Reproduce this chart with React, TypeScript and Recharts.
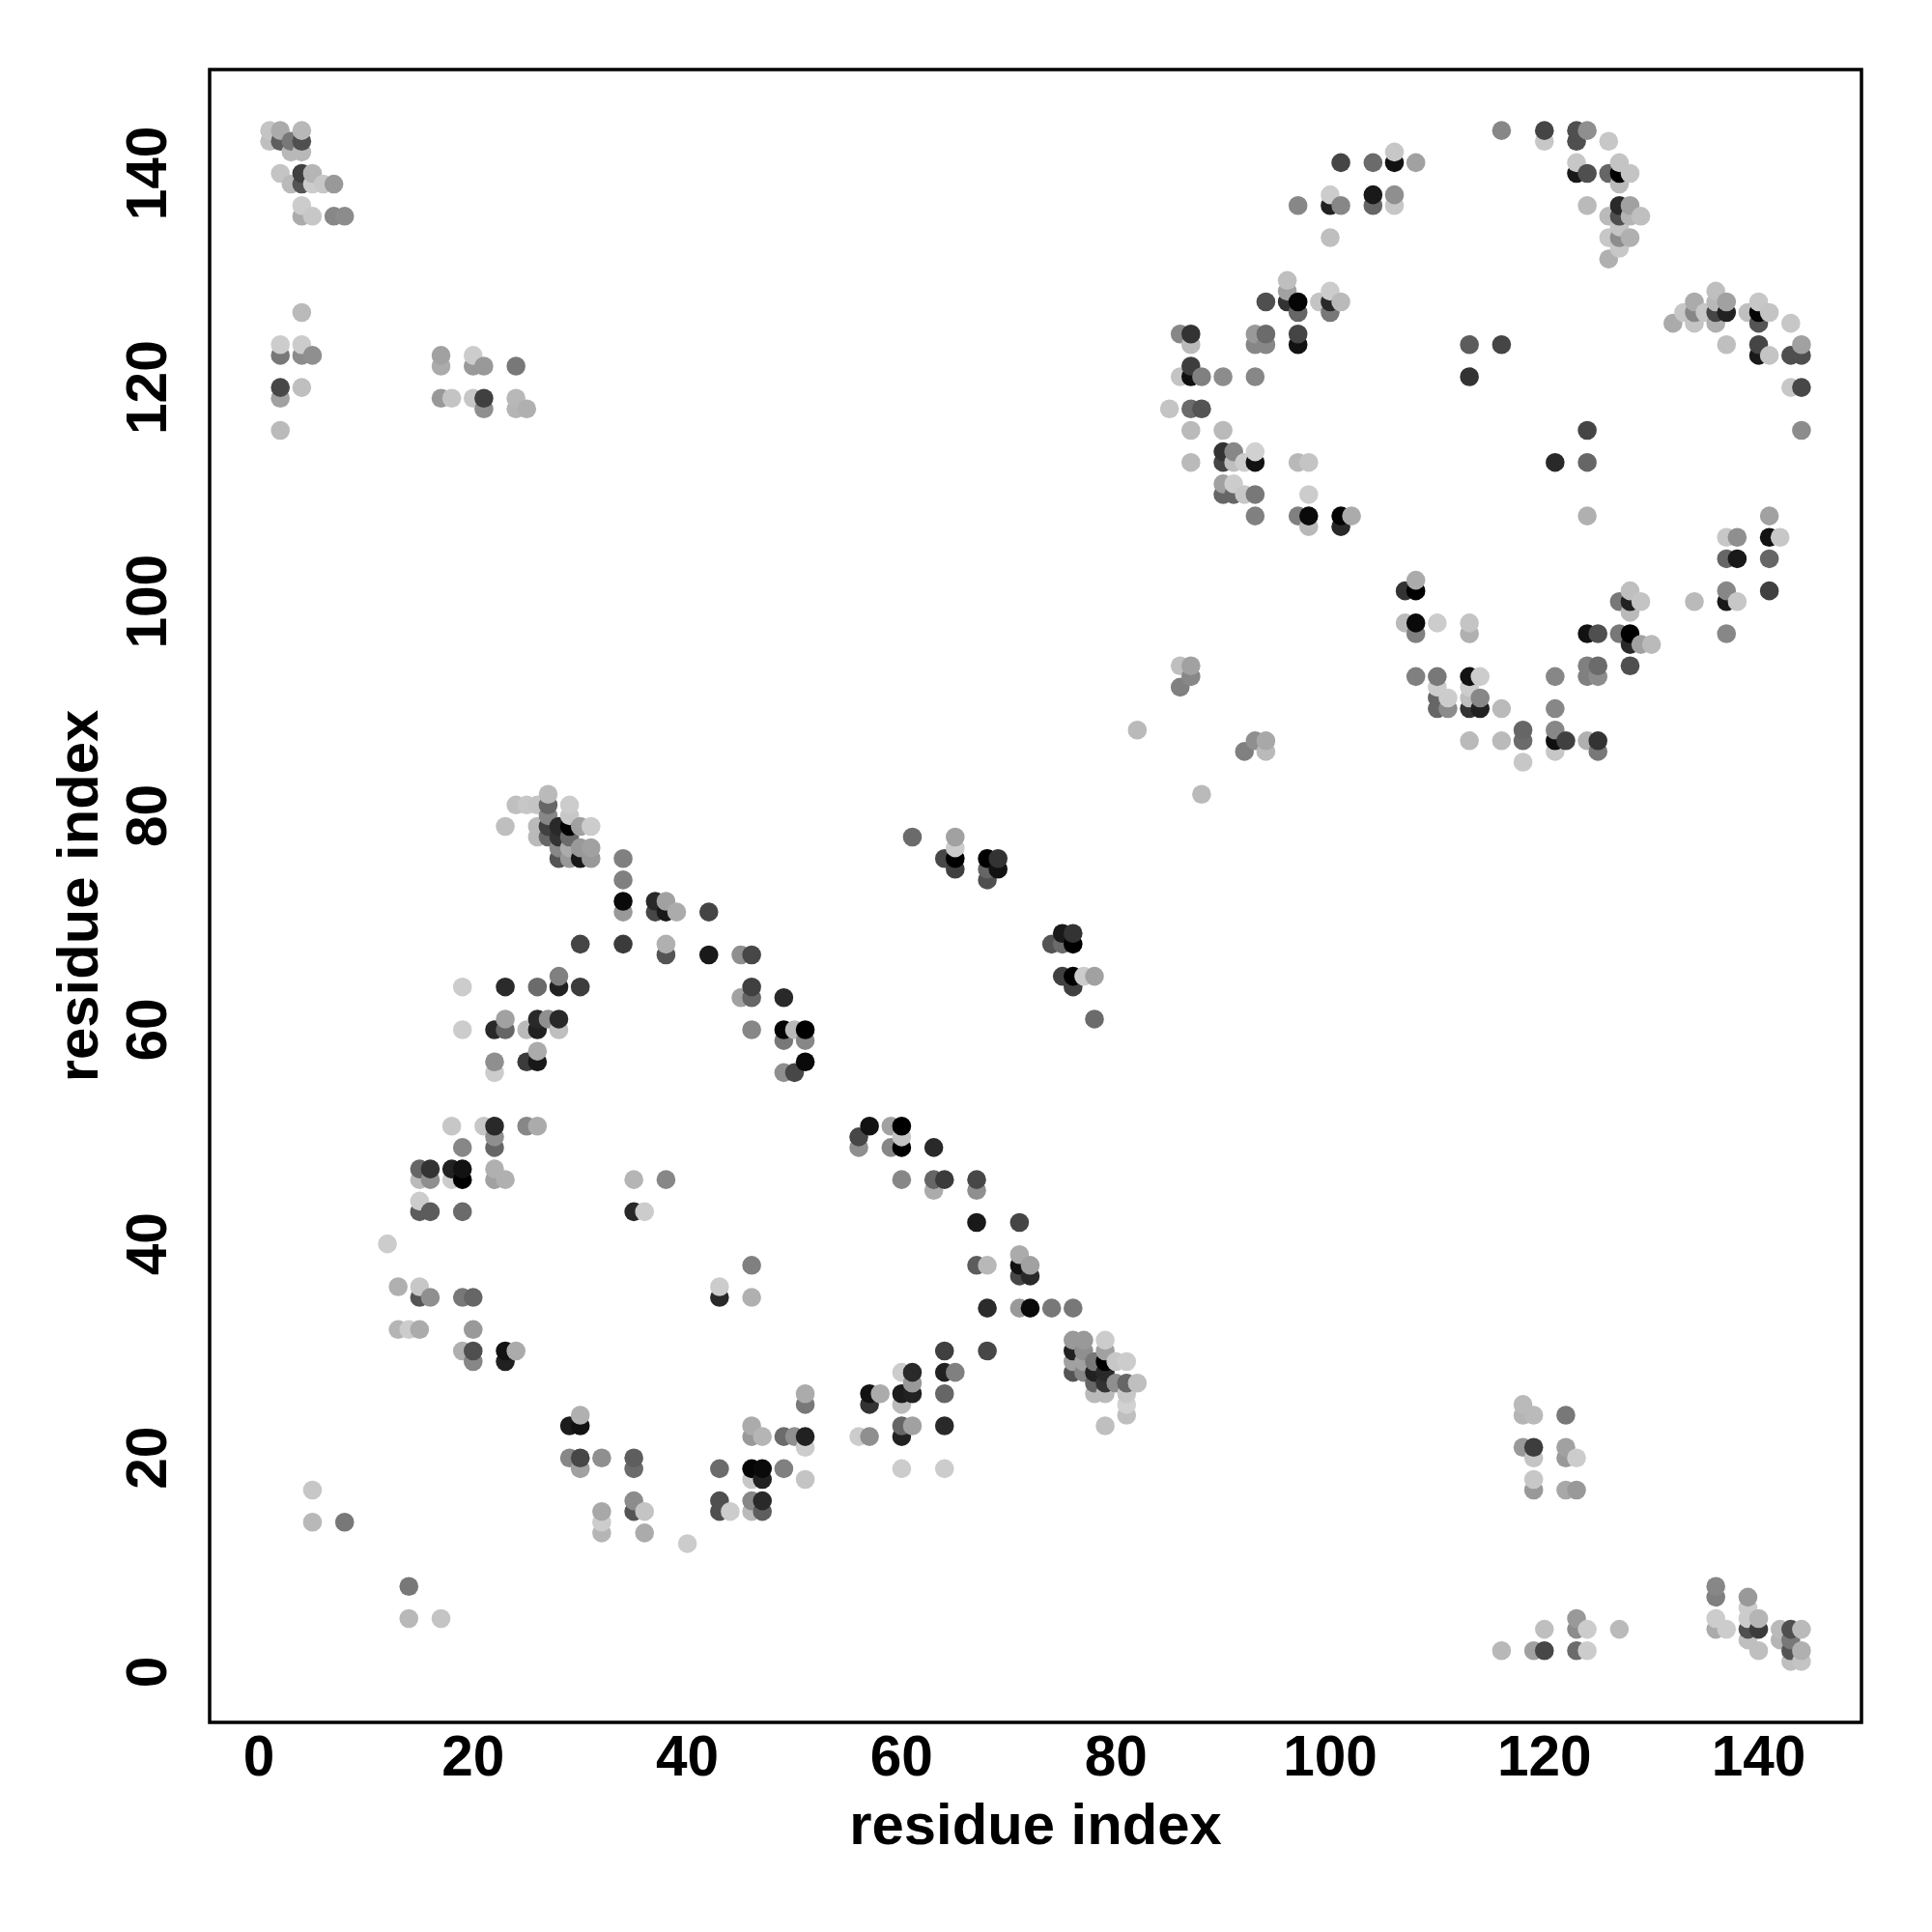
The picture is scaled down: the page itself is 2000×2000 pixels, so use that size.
import React from 'react';
import { ScatterChart, Scatter, XAxis, YAxis, ReferenceArea, Label } from 'recharts';

// each contact is [residue i, residue j, strength 0-100]
const cornerTopLeft = [
  [1, 144, 23], [1, 143, 25], [2, 144, 33], [2, 143, 63], [3, 143, 53], [3, 142, 28], [4, 144, 28], [4, 143, 69], [4, 142, 28],
  [2, 140, 23], [3, 139, 27], [4, 140, 75], [4, 139, 67], [5, 140, 29], [5, 139, 20], [6, 139, 22], [7, 139, 40],
  [4, 137, 20], [4, 136, 33], [5, 136, 22], [7, 136, 47], [8, 136, 45],
  [4, 127, 27], [2, 124, 20], [2, 123, 53], [4, 124, 20], [4, 123, 45], [5, 123, 44], [2, 120, 72], [2, 119, 37], [4, 120, 25], [2, 116, 27],
  [17, 123, 37], [17, 122, 33], [20, 123, 20], [20, 122, 40], [21, 122, 40], [24, 122, 53],
  [17, 119, 40], [18, 119, 23], [20, 119, 22], [21, 119, 75], [21, 118, 44], [24, 119, 28], [24, 118, 29], [25, 118, 31],
];

const upperArcLeft = [
  [101, 141, 73], [104, 141, 58], [106, 141, 93], [106, 142, 22], [108, 141, 37],
  [97, 137, 47], [100, 138, 20], [100, 137, 87], [101, 137, 47], [104, 138, 90], [104, 137, 60], [106, 138, 44], [106, 137, 22],
  [100, 134, 25], [96, 130, 25], [96, 129, 37], [96, 128, 80], [97, 128, 98], [97, 127, 60], [94, 128, 69],
  [99, 128, 23], [100, 129, 20], [100, 128, 84], [100, 127, 53], [101, 128, 27],
  [86, 125, 47], [87, 125, 80], [87, 124, 27], [93, 125, 40], [94, 125, 58], [93, 124, 47], [94, 124, 47], [97, 125, 73], [97, 124, 93],
  [87, 122, 76], [87, 121, 94], [86, 121, 23], [88, 121, 50], [90, 121, 45], [93, 121, 47],
  [85, 118, 23], [87, 118, 58], [88, 118, 67], [87, 116, 27], [90, 116, 27],
  [87, 113, 27], [90, 114, 80], [90, 113, 73], [91, 114, 47], [91, 113, 25], [92, 113, 20], [93, 114, 18], [93, 113, 93], [97, 113, 28], [98, 113, 23],
  [90, 111, 37], [90, 110, 60], [91, 111, 20], [91, 110, 60], [92, 110, 22], [93, 110, 53],
  [93, 108, 50], [97, 108, 50], [98, 110, 20], [98, 108, 96], [98, 107, 28], [101, 108, 98], [101, 107, 84], [102, 108, 33],
  [113, 124, 64], [116, 124, 73], [113, 121, 80],
];

const upperArcRight = [
  [116, 144, 47], [120, 144, 73], [120, 143, 22], [123, 144, 69], [123, 143, 69], [124, 144, 44], [126, 143, 22],
  [123, 141, 22], [123, 140, 90], [124, 140, 69], [126, 140, 60], [127, 140, 100], [127, 141, 23], [128, 140, 23], [127, 139, 27],
  [124, 137, 27], [127, 137, 84], [128, 137, 37], [126, 136, 27], [127, 136, 69], [128, 136, 29], [129, 136, 25],
  [127, 135, 23], [126, 134, 22], [127, 134, 45], [128, 134, 31], [127, 133, 22], [126, 132, 31],
  [132, 126, 33], [133, 127, 22], [134, 128, 33], [134, 127, 47], [134, 126, 23], [135, 127, 22],
  [136, 129, 25], [136, 128, 28], [136, 127, 73], [136, 126, 31], [137, 128, 37], [137, 127, 87],
  [139, 127, 25], [140, 128, 22], [140, 127, 98], [140, 126, 67], [141, 127, 23], [143, 126, 22],
  [137, 124, 25], [140, 124, 73], [140, 123, 90], [141, 123, 23], [143, 123, 69], [144, 123, 69], [144, 124, 37],
  [143, 120, 22], [144, 120, 72], [144, 116, 45], [121, 113, 84], [124, 113, 60], [124, 116, 73],
];

const lowerArcRight = [
  [107, 101, 80], [108, 101, 100], [108, 102, 33], [107, 98, 27], [108, 98, 96], [108, 97, 50], [110, 98, 20], [113, 98, 23], [113, 97, 31],
  [86, 94, 25], [87, 94, 37], [87, 93, 47], [86, 92, 50], [82, 88, 27], [88, 82, 27],
  [92, 86, 50], [93, 87, 44], [94, 87, 34], [94, 86, 27],
  [108, 93, 50], [110, 93, 53], [110, 92, 20], [110, 91, 60], [111, 91, 20], [110, 90, 60], [111, 90, 45],
  [113, 93, 93], [114, 93, 20], [113, 92, 20], [113, 91, 25], [114, 91, 47], [113, 90, 80], [114, 90, 87],
  [113, 87, 27], [116, 90, 27], [116, 87, 27], [118, 88, 60], [118, 87, 58], [118, 85, 22],
  [124, 108, 31], [141, 108, 37], [137, 106, 22], [138, 106, 44], [141, 106, 93], [142, 106, 22],
  [137, 104, 60], [138, 104, 90], [141, 104, 60], [137, 101, 47], [141, 101, 75], [137, 100, 90], [138, 100, 22], [134, 100, 27], [137, 97, 47],
  [128, 101, 25], [127, 100, 53], [128, 100, 87], [129, 100, 23], [128, 99, 27],
  [124, 97, 93], [125, 97, 69], [127, 97, 53], [128, 97, 100], [128, 96, 84], [129, 96, 37], [130, 96, 27], [128, 94, 69],
  [124, 94, 50], [125, 94, 58], [124, 93, 50], [125, 93, 45], [121, 93, 47], [121, 90, 47],
  [121, 88, 47], [121, 87, 94], [122, 87, 75], [121, 86, 22], [124, 87, 31], [125, 87, 80], [125, 86, 53],
];

const helixBlock = [
  [23, 79, 25], [24, 81, 25], [25, 81, 22], [26, 81, 23], [27, 82, 27], [27, 81, 60], [27, 80, 47], [26, 79, 27], [26, 78, 27], [27, 79, 75], [27, 78, 60],
  [28, 79, 84], [28, 78, 80], [28, 77, 47], [28, 76, 67], [29, 81, 20], [29, 80, 22], [29, 79, 100], [29, 78, 58], [29, 77, 33], [29, 76, 40],
  [30, 79, 37], [31, 79, 20], [30, 77, 40], [31, 77, 37], [30, 76, 90], [31, 76, 40],
  [34, 76, 50], [34, 74, 50], [34, 72, 96], [34, 71, 40], [37, 72, 84], [37, 71, 72], [38, 72, 37], [38, 71, 90], [39, 71, 33], [42, 71, 73],
  [30, 68, 73], [34, 68, 77], [38, 68, 31], [38, 67, 67], [42, 67, 90], [45, 67, 44], [46, 67, 72],
  [23, 64, 83], [26, 64, 58], [28, 65, 50], [28, 64, 87], [30, 64, 76], [46, 64, 75], [45, 63, 37], [46, 63, 60], [49, 63, 84],
  [46, 60, 47], [49, 60, 98], [50, 60, 27], [51, 60, 100], [49, 59, 53], [51, 59, 47], [51, 57, 96], [49, 56, 44], [50, 56, 72],
  [22, 60, 84], [23, 61, 37], [23, 60, 60], [25, 60, 27], [26, 61, 84], [26, 60, 87], [27, 61, 44], [28, 61, 84], [28, 60, 25],
  [22, 57, 44], [22, 56, 20], [25, 57, 77], [26, 57, 90], [26, 58, 33], [19, 64, 20], [19, 60, 20],
];

const lowerArcLeft = [
  [18, 51, 22], [21, 51, 22], [22, 51, 84], [22, 50, 44], [22, 49, 60], [25, 51, 47], [26, 51, 33], [19, 49, 47],
  [15, 47, 60], [16, 47, 80], [15, 46, 27], [16, 46, 44], [18, 47, 87], [19, 47, 93], [19, 46, 100], [18, 46, 20], [22, 47, 31], [22, 46, 37], [23, 46, 31],
  [15, 44, 20], [15, 43, 64], [16, 43, 64], [19, 43, 58], [12, 40, 20],
  [13, 36, 31], [15, 36, 22], [15, 35, 67], [16, 35, 44], [19, 35, 53], [20, 35, 60],
  [13, 32, 29], [14, 32, 20], [15, 32, 33], [20, 32, 40], [19, 30, 31], [20, 30, 69], [20, 29, 47], [23, 30, 93], [24, 30, 33], [23, 29, 87],
  [35, 46, 29], [38, 46, 47], [35, 43, 84], [36, 43, 20], [43, 36, 20], [43, 35, 84], [46, 38, 50], [46, 35, 31],
  [29, 23, 89], [30, 23, 93], [30, 24, 31], [29, 20, 47], [30, 20, 72], [30, 19, 37], [32, 20, 44], [35, 20, 63], [35, 19, 58],
  [32, 15, 34], [32, 14, 20], [32, 13, 29], [35, 16, 45], [35, 15, 67], [36, 15, 23], [36, 13, 33], [40, 12, 20],
  [43, 19, 58], [46, 19, 98], [47, 19, 96], [47, 18, 87], [46, 18, 22], [49, 19, 50], [51, 18, 23],
  [43, 16, 69], [43, 15, 69], [44, 15, 20], [46, 16, 47], [47, 16, 84], [46, 15, 27], [47, 15, 63],
  [46, 23, 33], [46, 22, 40], [47, 22, 29], [49, 22, 58], [50, 22, 44], [51, 22, 87], [51, 21, 20], [51, 26, 33], [51, 25, 53],
];

const lowerArcMiddle = [
  [56, 22, 20], [57, 22, 44], [57, 26, 93], [58, 26, 33], [57, 25, 80], [60, 26, 89], [61, 26, 87], [60, 25, 27],
  [60, 28, 20], [61, 28, 84], [61, 27, 40], [64, 28, 87], [65, 28, 50], [64, 26, 60], [64, 30, 75], [68, 30, 72],
  [60, 23, 60], [61, 23, 37], [60, 22, 87], [64, 23, 84], [60, 19, 20], [64, 19, 20],
  [57, 51, 93], [56, 50, 72], [56, 49, 44], [59, 51, 37], [60, 51, 100], [60, 50, 23], [59, 49, 47], [60, 49, 100], [63, 49, 84],
  [60, 46, 47], [63, 46, 60], [64, 46, 77], [63, 45, 33], [67, 46, 72], [67, 45, 44], [67, 42, 90], [71, 42, 73],
  [67, 38, 64], [68, 38, 28], [71, 39, 33], [71, 38, 93], [72, 38, 37], [71, 37, 72], [72, 37, 84],
  [68, 34, 83], [71, 34, 40], [72, 34, 96], [74, 34, 53], [76, 34, 53],
  [76, 31, 40], [77, 31, 40], [79, 31, 20], [76, 30, 87], [77, 30, 44], [79, 30, 37], [76, 29, 37], [77, 29, 37], [78, 29, 53], [79, 29, 100], [80, 29, 22], [81, 29, 20],
  [76, 28, 67], [77, 28, 47], [78, 28, 87], [79, 28, 84], [78, 27, 60], [79, 27, 80], [80, 27, 44], [81, 27, 60], [82, 27, 25],
  [78, 26, 27], [79, 26, 27], [81, 26, 22], [81, 25, 18], [81, 24, 25], [79, 23, 25],
];

const diagonalBridge = [
  [61, 78, 58], [65, 78, 37], [65, 77, 20], [64, 76, 72], [65, 76, 100], [65, 75, 75], [68, 76, 100], [69, 76, 80], [69, 75, 93], [68, 75, 60], [68, 74, 69],
  [74, 68, 67], [75, 68, 58], [75, 69, 90], [76, 69, 80], [76, 68, 100], [75, 65, 75], [76, 65, 100], [76, 64, 75], [77, 65, 20], [78, 65, 37], [78, 61, 58],
];

const cornerBottom = [
  [5, 17, 22], [5, 14, 28], [8, 14, 53], [14, 8, 53], [14, 5, 28], [17, 5, 23],
  [118, 25, 27], [118, 24, 29], [119, 24, 27], [122, 24, 53], [118, 21, 40], [119, 21, 76], [119, 20, 23],
  [122, 21, 37], [122, 20, 40], [123, 20, 20], [119, 18, 22], [119, 17, 40], [122, 17, 34], [123, 17, 40],
  [123, 5, 40], [123, 4, 45], [124, 4, 20], [120, 4, 25], [127, 4, 27],
  [116, 2, 28], [119, 2, 37], [120, 2, 72], [123, 2, 58], [124, 2, 20],
  [136, 8, 47], [136, 7, 50], [136, 5, 20], [136, 4, 33], [137, 4, 20],
  [139, 7, 40], [139, 6, 20], [139, 5, 20], [140, 5, 29], [139, 4, 69], [140, 4, 77], [139, 3, 25], [140, 2, 25],
  [142, 4, 27], [142, 3, 29], [143, 4, 69], [143, 3, 53], [143, 2, 67], [144, 4, 27], [144, 2, 31], [143, 1, 25], [144, 1, 23],
];

const tickValues = [0, 20, 40, 60, 80, 100, 120, 140];
const xDomain = [-4.6, 149.6];
const yDomain = [-4.7, 149.7];

const FONT = '"Liberation Sans", Arial, sans-serif';

// points are drawn left to right, bottom to top, which decides the overlaps
const contacts = [
  ...cornerTopLeft, ...upperArcLeft, ...upperArcRight, ...lowerArcRight,
  ...helixBlock, ...lowerArcLeft, ...lowerArcMiddle, ...diagonalBridge, ...cornerBottom,
]
  .sort((a, b) => a[0] - b[0] || a[1] - b[1])
  .map(([x, y, strength]) => ({ x, y, strength }));

function shade(strength: number) {
  const g = Math.round(255 * (1 - strength / 100));
  return `rgb(${g},${g},${g})`;
}

function ContactDot(props: any) {
  return <circle cx={props.cx} cy={props.cy} r={9.8} fill={shade(props.payload.strength)} />;
}

function XTick({ x, payload }: any) {
  return (
    <text x={x} y={1838} textAnchor="middle" fontFamily={FONT} fontWeight="bold" fontSize={58.5} fill="#000">
      {payload.value}
    </text>
  );
}

function YTick({ y, payload }: any) {
  return (
    <text x={172} y={y} transform={`rotate(-90 172 ${y})`} textAnchor="middle" fontFamily={FONT} fontWeight="bold" fontSize={58.5} fill="#000">
      {payload.value}
    </text>
  );
}

export default function App() {
  return (
    <div style={{ position: 'absolute', left: 0, top: 0, width: 2000, height: 2000, background: '#fff' }}>
      <ScatterChart width={2000} height={2000} margin={{ top: 72, right: 73, bottom: 0, left: 0 }}>
        <XAxis
          type="number"
          dataKey="x"
          domain={xDomain}
          ticks={tickValues}
          allowDataOverflow
          axisLine={false}
          tickLine={false}
          tick={<XTick />}
          interval={0}
          height={217}
        >
          <Label value="residue index" position="insideBottom" offset={91} fontFamily={FONT} fontWeight="bold" fontSize={59.8} fill="#000" />
        </XAxis>
        <YAxis
          type="number"
          dataKey="y"
          domain={yDomain}
          ticks={tickValues}
          allowDataOverflow
          axisLine={false}
          tickLine={false}
          tick={<YTick />}
          interval={0}
          width={217}
        >
          <Label value="residue index" angle={-90} position="insideLeft" textAnchor="middle" offset={80} fontFamily={FONT} fontWeight="bold" fontSize={59.8} fill="#000" />
        </YAxis>
        <ReferenceArea x1={xDomain[0]} x2={xDomain[1]} y1={yDomain[0]} y2={yDomain[1]} fill="none" stroke="#000" strokeWidth={3.5} fillOpacity={0} />
        <Scatter data={contacts} shape={<ContactDot />} isAnimationActive={false} />
      </ScatterChart>
    </div>
  );
}
